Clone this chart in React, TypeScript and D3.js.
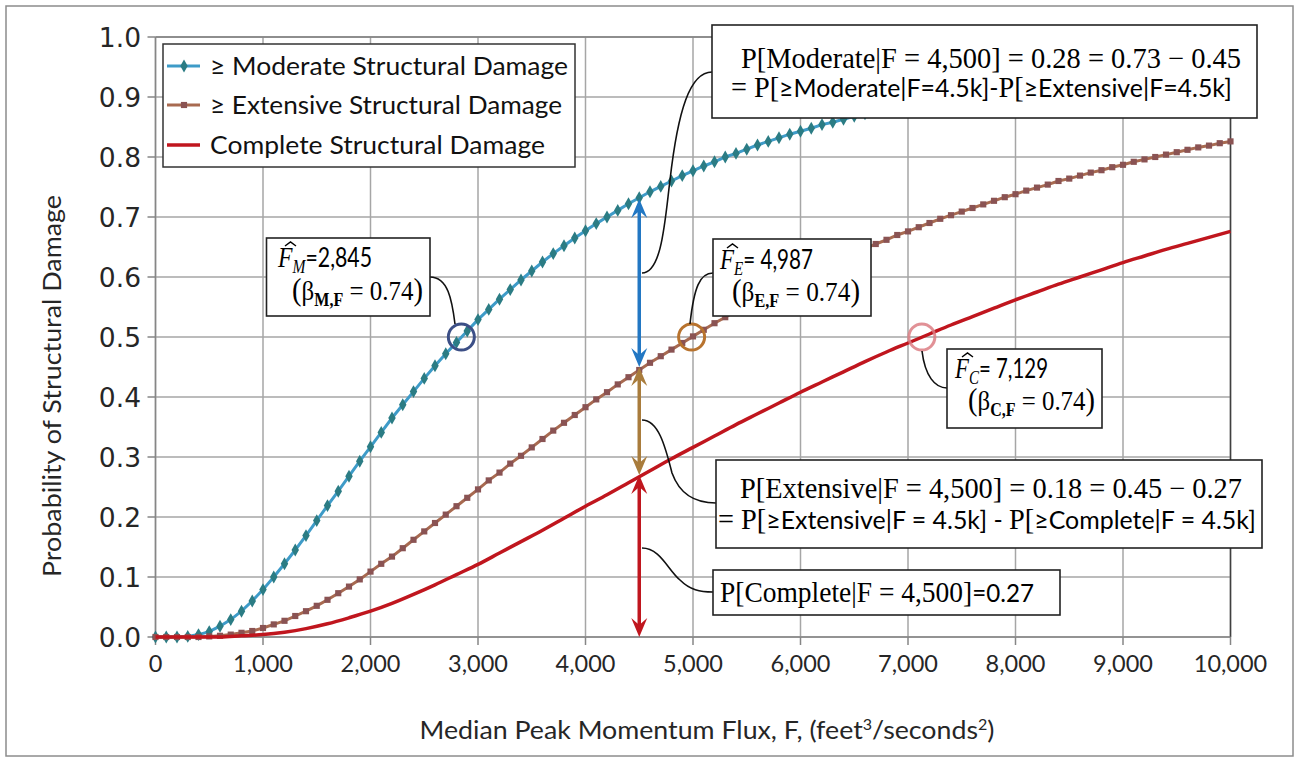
import React from "react";
import * as d3 from "d3";

// ---------- data ----------
const forceStep100 = d3.range(0, 10001, 100);
const moderateP = [0, 0.000, 0.000, 0.001, 0.004, 0.009, 0.018, 0.029, 0.043, 0.060, 0.079, 0.100, 0.122, 0.145, 0.169, 0.194, 0.219, 0.243, 0.268, 0.293, 0.317, 0.341, 0.365, 0.387, 0.409, 0.431, 0.452, 0.472, 0.491, 0.510, 0.529, 0.546, 0.563, 0.579, 0.595, 0.610, 0.625, 0.639, 0.652, 0.665, 0.677, 0.689, 0.700, 0.711, 0.722, 0.732, 0.742, 0.751, 0.760, 0.769, 0.777, 0.785, 0.792, 0.800, 0.806, 0.813, 0.820, 0.826, 0.832, 0.838, 0.843, 0.848, 0.854, 0.858, 0.863, 0.868, 0.872, 0.876, 0.880, 0.884, 0.888, 0.892, 0.895, 0.898, 0.902, 0.905, 0.908, 0.910, 0.913, 0.916, 0.919, 0.921, 0.923, 0.926, 0.928, 0.930, 0.933, 0.934, 0.936, 0.938, 0.940, 0.942, 0.944, 0.945, 0.947, 0.948, 0.950, 0.951, 0.952, 0.954, 0.955];
const extensiveP = [0, 0.000, 0.000, 0.000, 0.000, 0.001, 0.002, 0.004, 0.007, 0.010, 0.015, 0.021, 0.027, 0.035, 0.043, 0.052, 0.062, 0.073, 0.084, 0.096, 0.109, 0.122, 0.134, 0.148, 0.162, 0.176, 0.190, 0.204, 0.218, 0.232, 0.246, 0.261, 0.274, 0.289, 0.302, 0.316, 0.330, 0.344, 0.357, 0.370, 0.383, 0.396, 0.408, 0.421, 0.433, 0.445, 0.457, 0.468, 0.479, 0.490, 0.501, 0.512, 0.523, 0.533, 0.543, 0.552, 0.562, 0.572, 0.581, 0.590, 0.599, 0.607, 0.616, 0.624, 0.632, 0.640, 0.647, 0.655, 0.662, 0.670, 0.676, 0.683, 0.690, 0.697, 0.703, 0.709, 0.715, 0.721, 0.727, 0.733, 0.738, 0.744, 0.749, 0.754, 0.760, 0.764, 0.769, 0.774, 0.778, 0.783, 0.787, 0.792, 0.796, 0.800, 0.804, 0.808, 0.812, 0.816, 0.819, 0.823, 0.826];
const forceStep200 = d3.range(0, 10001, 200);
const completeP = [0, 0.000, 0.000, 0.000, 0.002, 0.004, 0.008, 0.014, 0.022, 0.032, 0.043, 0.056, 0.071, 0.087, 0.104, 0.121, 0.140, 0.159, 0.178, 0.198, 0.218, 0.237, 0.257, 0.277, 0.297, 0.316, 0.335, 0.354, 0.372, 0.390, 0.408, 0.425, 0.442, 0.459, 0.475, 0.490, 0.505, 0.520, 0.534, 0.548, 0.562, 0.575, 0.588, 0.600, 0.612, 0.624, 0.635, 0.646, 0.656, 0.666, 0.676];

const xTicks = [0, 1000, 2000, 3000, 4000, 5000, 6000, 7000, 8000, 9000, 10000];
const xTickLabels = ["0", "1,000", "2,000", "3,000", "4,000", "5,000", "6,000", "7,000", "8,000", "9,000", "10,000"];
const yTicks = [0, 0.1, 0.2, 0.3, 0.4, 0.5, 0.6, 0.7, 0.8, 0.9, 1.0];
const yTickLabels = ["0.0", "0.1", "0.2", "0.3", "0.4", "0.5", "0.6", "0.7", "0.8", "0.9", "1.0"];

const medianForce = [2845, 4987, 7129];
const medianColors = ["#3C4F86", "#B8732E", "#DC7E84"];
const arrowForce = 4500;
const arrowLevels = [0.73, 0.45, 0.27, 0];
const arrowColors = ["#2277C3", "#A97C3C", "#C0161E"];

// ---------- styles ----------
const serif = "'Liberation Serif', 'Times New Roman', serif";
const sans = "Lato, 'Open Sans', sans-serif";
const modLine = "#3E9BC8";
const modMark = "#2B7C84";
const extLine = "#A86A50";
const extMark = "#8A5353";
const compLine = "#C0161E";

const x = d3.scaleLinear().domain([0, 10000]).range([155.5, 1230.5]);
const y = d3.scaleLinear().domain([0, 1]).range([637, 37]);

function Arrow({ px, yBot, yTop, color }: { px: number; yBot: number; yTop: number; color: string }) {
  const hl = 19, hw = 8, notch = 12;
  return (
    <g>
      <line x1={px} x2={px} y1={yBot - notch} y2={yTop + notch} stroke={color} strokeWidth={3.5} />
      <path d={`M${px},${yTop} L${px - hw},${yTop + hl} L${px},${yTop + notch} L${px + hw},${yTop + hl} Z`} fill={color} />
      <path d={`M${px},${yBot} L${px - hw},${yBot - hl} L${px},${yBot - notch} L${px + hw},${yBot - hl} Z`} fill={color} />
    </g>
  );
}

function MedianLabel({ x1, y1, x2, y2, sub, value, len1, len2 }: any) {
  return (
    <g>
      <text x={x1} y={y1} textLength={len1} lengthAdjust="spacingAndGlyphs">
        <tspan fontFamily={serif} fontStyle="italic" fontSize={29}>F</tspan>
        <tspan fontFamily={serif} fontStyle="italic" fontSize={19} dy={6}>{sub}</tspan>
        <tspan fontFamily={sans} fontSize={26} dy={-6}>{value}</tspan>
      </text>
      <path d={`M${x1 + 7},${y1 - 21} L${x1 + 12.5},${y1 - 25} L${x1 + 18},${y1 - 21}`} fill="none" stroke="#000" strokeWidth={1.5} />
      <text x={x2} y={y2} textLength={len2} lengthAdjust="spacingAndGlyphs" fontFamily={serif}>
        <tspan fontSize={32}>(</tspan>
        <tspan fontSize={28}>β</tspan>
        <tspan fontSize={18} fontWeight="bold" dy={6}>{sub},F</tspan>
        <tspan fontSize={28} dy={-6}> = 0.74</tspan>
        <tspan fontSize={32}>)</tspan>
      </text>
    </g>
  );
}

export default function App() {
  const modPts = forceStep100.map((f, i) => [f, moderateP[i]] as [number, number]);
  const extPts = forceStep100.map((f, i) => [f, extensiveP[i]] as [number, number]);
  const compPts = forceStep200.map((f, i) => [f, completeP[i]] as [number, number]);
  const lineLin = d3.line<[number, number]>().x(d => x(d[0])).y(d => y(d[1]));
  const lineSmooth = d3.line<[number, number]>().x(d => x(d[0])).y(d => y(d[1])).curve(d3.curveMonotoneX);
  const diamond = d3.symbol().type(d3.symbolDiamond).size(48)() as string;
  const square = d3.symbol().type(d3.symbolSquare).size(38)() as string;
  const ax = x(arrowForce);

  return (
    <svg width={1300} height={763} style={{ position: "absolute", left: 0, top: 0, background: "#fff" }}>
      <rect x={0} y={0} width={1300} height={763} fill="#fff" />
      <rect x={6} y={6} width={1287} height={750} fill="none" stroke="#8c8c8c" strokeWidth={1.5} />

      {/* gridlines */}
      {xTicks.map(t => (
        <line key={"gx" + t} x1={x(t)} x2={x(t)} y1={y(0)} y2={y(1)} stroke="#a6a6a6" strokeWidth={1.5} />
      ))}
      {yTicks.map(t => (
        <line key={"gy" + t} x1={x(0)} x2={x(10000)} y1={y(t)} y2={y(t)} stroke="#a6a6a6" strokeWidth={1.5} />
      ))}
      <line x1={x(10000)} x2={x(10000)} y1={y(0)} y2={y(1)} stroke="#404040" strokeWidth={1.5} />
      <line x1={x(0)} x2={x(10000)} y1={y(1)} y2={y(1)} stroke="#7f7f7f" strokeWidth={1.5} />
      <line x1={x(0)} x2={x(0)} y1={y(0)} y2={y(1)} stroke="#868686" strokeWidth={1.5} />
      <line x1={x(0)} x2={x(10000)} y1={y(0)} y2={y(0)} stroke="#868686" strokeWidth={1.5} />

      {/* ticks */}
      {yTicks.map((t, i) => (
        <g key={"ty" + t}>
          <line x1={x(0) - 8} x2={x(0)} y1={y(t)} y2={y(t)} stroke="#868686" strokeWidth={1.5} />
          <text x={141} y={y(t) + 9.5} textAnchor="end" fontFamily="'DejaVu Sans', Verdana, sans-serif" fontSize={26.5} fill="#262626">{yTickLabels[i]}</text>
        </g>
      ))}
      {xTicks.map((t, i) => (
        <g key={"tx" + t}>
          <line x1={x(t)} x2={x(t)} y1={y(0)} y2={y(0) + 8} stroke="#868686" strokeWidth={1.5} />
          <text x={x(t)} y={672} textAnchor="middle" fontFamily={sans} fontSize={23.5} fill="#262626">{xTickLabels[i]}</text>
        </g>
      ))}

      {/* axis titles */}
      <text x={707} y={739} textAnchor="middle" fontFamily={sans} fontSize={25} fill="#262626" textLength={575} lengthAdjust="spacingAndGlyphs">
        Median Peak Momentum Flux, F, (feet<tspan fontSize={15} dy={-9}>3</tspan><tspan dy={9}>/seconds</tspan><tspan fontSize={15} dy={-9}>2</tspan><tspan dy={9}>)</tspan>
      </text>
      <text transform="translate(61,386) rotate(-90)" textAnchor="middle" fontFamily={sans} fontSize={25} fill="#262626" textLength={382} lengthAdjust="spacingAndGlyphs">
        Probability of Structural Damage
      </text>

      {/* series */}
      <path d={lineLin(modPts) as string} fill="none" stroke={modLine} strokeWidth={3} />
      {modPts.map((d, i) => (
        <path key={"mm" + i} d={diamond} transform={`translate(${x(d[0])},${y(d[1])})`} fill={modMark} />
      ))}
      <path d={lineLin(extPts) as string} fill="none" stroke={extLine} strokeWidth={3} />
      {extPts.map((d, i) => (
        <path key={"em" + i} d={square} transform={`translate(${x(d[0])},${y(d[1])})`} fill={extMark} />
      ))}
      <path d={lineSmooth(compPts) as string} fill="none" stroke={compLine} strokeWidth={3.5} />

      {/* median circles */}
      {medianForce.map((f, i) => (
        <circle key={"c" + f} cx={x(f)} cy={y(0.5)} r={13} fill="none" stroke={medianColors[i]} strokeWidth={3} opacity={i === 2 ? 0.85 : 1} />
      ))}

      {/* arrows */}
      {arrowColors.map((c, i) => (
        <Arrow key={"a" + i} px={ax} yTop={y(arrowLevels[i])} yBot={y(arrowLevels[i + 1])} color={c} />
      ))}

      {/* leader lines */}
      <g fill="none" stroke="#111" strokeWidth={1.6}>
        <path d="M430,277 C448,277 452,300 455,324" />
        <path d="M713,273 C700,273 694,287 690,324" />
        <path d="M947,388 C935,388 925,376 922,351" />
        <path d="M642,273 C662,273 665,220 670,180 C678,110 690,72 712,72" />
        <path d="M642,420 C658,420 665,445 672,473 C680,495 695,503 716,503" />
        <path d="M642,548 C660,548 668,570 680,580 C690,590 700,592 713,592" />
      </g>

      {/* legend */}
      <rect x={163} y={44} width={412} height={123} fill="#fff" stroke="#333" strokeWidth={1.5} />
      <line x1={167} x2={200} y1={66} y2={66} stroke={modLine} strokeWidth={3} />
      <path d={diamond} transform="translate(184,66)" fill={modMark} />
      <line x1={167} x2={200} y1={105} y2={105} stroke={extLine} strokeWidth={3} />
      <path d={square} transform="translate(184,105)" fill={extMark} />
      <line x1={167} x2={200} y1={145} y2={145} stroke={compLine} strokeWidth={3.5} />
      <g fontFamily={sans} fontSize={25.5} fill="#111">
        <text x={210} y={75} textLength={358} lengthAdjust="spacingAndGlyphs">≥ Moderate Structural Damage</text>
        <text x={210} y={114} textLength={352} lengthAdjust="spacingAndGlyphs">≥ Extensive Structural Damage</text>
        <text x={210} y={154} textLength={335} lengthAdjust="spacingAndGlyphs">Complete Structural Damage</text>
      </g>

      {/* top annotation */}
      <rect x={712} y={25} width={545} height={93} fill="#fff" stroke="#222" strokeWidth={1.6} />
      <text x={741} y={68} fontFamily={serif} fontSize={29} textLength={500} lengthAdjust="spacingAndGlyphs">P[Moderate|F = 4,500] = 0.28 = 0.73 − 0.45</text>
      <text x={731} y={97} fontSize={27} textLength={501} lengthAdjust="spacingAndGlyphs">
        <tspan fontFamily={serif} fontSize={29}>= P[</tspan>
        <tspan fontFamily={sans} fontSize={25.5}>≥Moderate|F=4.5k]-</tspan>
        <tspan fontFamily={serif} fontSize={29}>P[</tspan>
        <tspan fontFamily={sans} fontSize={25.5}>≥Extensive|F=4.5k]</tspan>
      </text>

      {/* median boxes */}
      <rect x={266.5} y={238} width={163.5} height={78} fill="#fff" stroke="#222" strokeWidth={1.6} />
      <MedianLabel x1={278} y1={267} x2={292} y2={300} sub="M" value="=2,845" len1={94} len2={131} />
      <rect x={713} y={239} width={158} height={77} fill="#fff" stroke="#222" strokeWidth={1.6} />
      <MedianLabel x1={720} y1={269} x2={732} y2={301} sub="E" value="= 4,987" len1={93} len2={128} />
      <rect x={947} y={349} width={155} height={79} fill="#fff" stroke="#222" strokeWidth={1.6} />
      <MedianLabel x1={955} y1={378} x2={968} y2={410} sub="C" value="= 7,129" len1={93} len2={127} />

      {/* extensive annotation */}
      <rect x={716} y={460} width={546} height={88} fill="#fff" stroke="#222" strokeWidth={1.6} />
      <text x={740} y={498} fontFamily={serif} fontSize={29} textLength={502} lengthAdjust="spacingAndGlyphs">P[Extensive|F = 4,500] = 0.18 = 0.45 − 0.27</text>
      <text x={718} y={529} fontSize={27} textLength={538} lengthAdjust="spacingAndGlyphs">
        <tspan fontFamily={serif} fontSize={29}>= P[</tspan>
        <tspan fontFamily={sans} fontSize={25.5}>≥Extensive|F = 4.5k] - </tspan>
        <tspan fontFamily={serif} fontSize={29}>P[</tspan>
        <tspan fontFamily={sans} fontSize={25.5}>≥Complete|F = 4.5k]</tspan>
      </text>

      {/* complete annotation */}
      <rect x={713} y={570} width={347} height={45} fill="#fff" stroke="#222" strokeWidth={1.6} />
      <text x={720} y={602} textLength={314} lengthAdjust="spacingAndGlyphs">
        <tspan fontFamily={serif} fontSize={29}>P[Complete|F = 4,500]</tspan>
        <tspan fontFamily={sans} fontSize={25.5}>=0.27</tspan>
      </text>
    </svg>
  );
}
